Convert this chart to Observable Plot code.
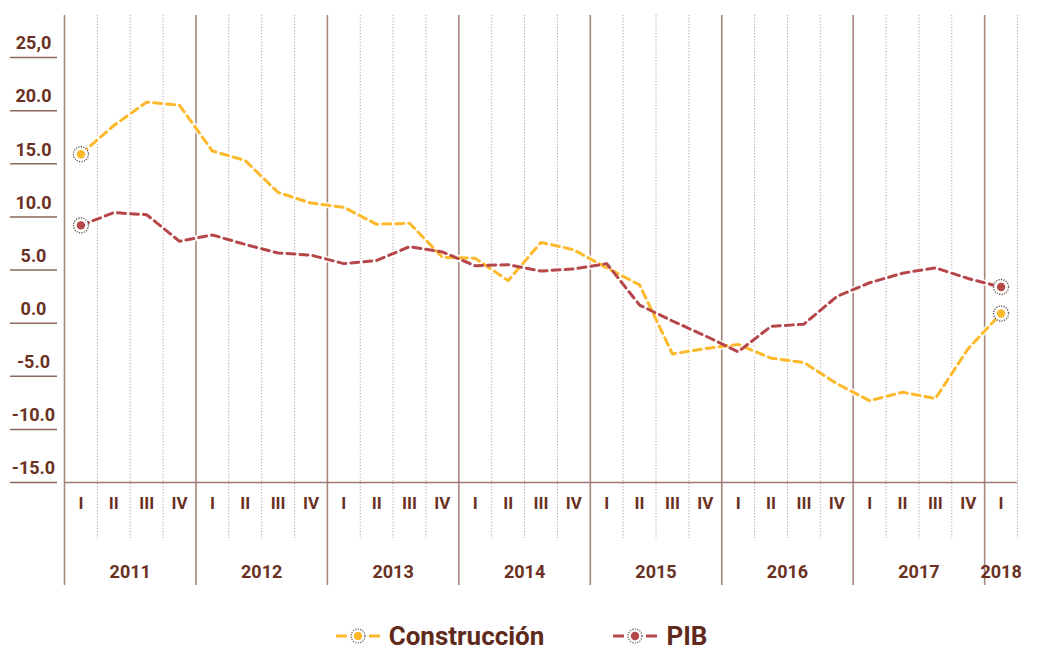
<!DOCTYPE html>
<html>
<head>
<meta charset="utf-8">
<script src="https://cdn.jsdelivr.net/npm/d3@7"></script>
<script src="https://cdn.jsdelivr.net/npm/@observablehq/plot@0.6"></script>
<style>
  html, body { margin: 0; padding: 0; background: #fff; }
  body { width: 1038px; height: 650px; overflow: hidden; font-family: Roboto, "Noto Sans", sans-serif; }
  #legend { display: flex; justify-content: center; align-items: center; gap: 68px; margin-top: 23px; height: 26px; padding-left: 4px; }
  .item { display: flex; align-items: center; gap: 8px; font-weight: 700; font-size: 26px; line-height: 26px; height: 26px; color: #5f2a1c; }
  .item svg { display: block; }
</style>
</head>
<body>
<div id="chart"></div>
<div id="legend"></div>
<script>
// ---- data ----
const years = [2011, 2012, 2013, 2014, 2015, 2016, 2017, 2018];
const quarterNames = ["I", "II", "III", "IV"];
const quarterCount = 29; // 2011-I ... 2018-I
const construccion = [15.9, 18.6, 20.8, 20.5, 16.2, 15.3, 12.3, 11.3, 10.9, 9.3, 9.4, 6.2, 6.1, 4.0, 7.6, 6.9, 5.2, 3.6, -2.9, -2.4, -2.0, -3.3, -3.7, -5.7, -7.3, -6.5, -7.1, -2.4, 0.9];
const pib = [9.2, 10.4, 10.2, 7.7, 8.3, 7.4, 6.6, 6.4, 5.6, 5.9, 7.2, 6.7, 5.4, 5.5, 4.9, 5.1, 5.6, 1.7, 0.2, -1.2, -2.7, -0.3, -0.1, 2.5, 3.8, 4.7, 5.2, 4.2, 3.4];
const yTicks = [-15, -10, -5, 0, 5, 10, 15, 20, 25];
const yTickLabels = ["-15.0", "-10.0", "-5.0", "0.0", "5.0", "10.0", "15.0", "20.0", "25,0"];
const seriesNames = ["Construcción", "PIB"];
const seriesColors = ["#fdb92b", "#b5474a"];

// ---- derived tables ----
const quarters = d3.range(quarterCount).map(i => {
  const year = years[0] + Math.floor(i / 4);
  const q = i % 4;
  return {i, year, q, label: quarterNames[q], t: year + q / 4 + 0.125, end: year + (q + 1) / 4};
});
const rows = [];
quarters.forEach(d => {
  rows.push({...d, serie: seriesNames[0], v: construccion[d.i]});
  rows.push({...d, serie: seriesNames[1], v: pib[d.i]});
});
const endpoints = rows.filter(d => d.i === 0 || d.i === quarterCount - 1);
const yearLabels = years.map(y => {
  const qs = quarters.filter(d => d.year === y);
  return {year: y, t: d3.mean(qs, d => d.t)};
});
const dottedLines = quarters.filter(d => !Number.isInteger(d.end)).map(d => d.end);
const solidLines = years;
const labelMap = new Map(yTicks.map((t, i) => [t, yTickLabels[i]]));
const colorMap = new Map(seriesNames.map((s, i) => [s, seriesColors[i]]));

const textColor = "#6a3122";
const curve = "linear";

const chart = Plot.plot({
  width: 1038,
  height: 600,
  marginLeft: 64,
  marginRight: 21,
  marginTop: 57,
  marginBottom: 118,
  style: {fontFamily: "Roboto, 'Noto Sans', sans-serif", background: "#fff"},
  x: {domain: [years[0], years[years.length - 1] + 0.25], axis: null},
  y: {domain: [-15, 25], axis: null},
  color: {domain: seriesNames, range: seriesColors},
  marks: [
    Plot.ruleX(dottedLines, {x: d => d, stroke: "#bba6a0", strokeWidth: 1, strokeDasharray: "1.3,1.7", insetTop: -42, insetBottom: -56}),
    Plot.ruleX(solidLines, {x: d => d, stroke: "#a8857d", strokeWidth: 1.6, insetTop: -42, insetBottom: -103}),
    Plot.ruleY([-15], {stroke: "#a07a70", strokeWidth: 1.5}),
    Plot.axisY({ticks: yTicks, label: null, tickSize: 47, dx: -7, tickFormat: () => "", stroke: "#8d675e", strokeWidth: 1.5}),
    Plot.axisY({ticks: yTicks, label: null, tickSize: 0, tickPadding: 31, textAnchor: "middle", dy: -14, tickFormat: d => labelMap.get(d), fontSize: 18, fontWeight: "bold", fill: textColor}),
    // halos
    Plot.line(rows, {x: "t", y: "v", z: "serie", stroke: "white", strokeWidth: 6, strokeDasharray: "10,3", strokeDashoffset: 1, curve, strokeLinejoin: "round", strokeOpacity: 0.9}),
    Plot.line(rows, {x: "t", y: "v", z: "serie", stroke: "serie", curve, strokeLinejoin: "round", strokeDasharray: "8,5", strokeWidth: 3}),
    Plot.dot(endpoints, {x: "t", y: "v", r: 7.5, fill: "white", stroke: "#5e4a45", strokeWidth: 1.3, strokeDasharray: "1.2,1.3"}),
    Plot.dot(endpoints, {x: "t", y: "v", r: 4.2, fill: "serie", stroke: null}),
    Plot.text(quarters, {x: "t", text: "label", frameAnchor: "bottom", lineAnchor: "middle", dy: 21, fontSize: 17, fontWeight: "bold", fill: textColor}),
    Plot.text(yearLabels, {x: "t", text: d => String(d.year), frameAnchor: "bottom", lineAnchor: "middle", dy: 90, fontSize: 18, fontWeight: "bold", fill: textColor})
  ]
});
document.getElementById("chart").appendChild(chart);

// ---- legend ----
const legend = d3.select("#legend");
seriesNames.forEach(name => {
  const c = colorMap.get(name);
  const item = legend.append("div").attr("class", "item");
  const svg = item.append("svg").attr("width", 46).attr("height", 20);
  svg.append("line").attr("x1", 1).attr("x2", 12).attr("y1", 10).attr("y2", 10).attr("stroke", c).attr("stroke-width", 3);
  svg.append("line").attr("x1", 34).attr("x2", 45).attr("y1", 10).attr("y2", 10).attr("stroke", c).attr("stroke-width", 3);
  svg.append("circle").attr("cx", 23).attr("cy", 10).attr("r", 7).attr("fill", "white").attr("stroke", "#5e4a45").attr("stroke-width", 1.2).attr("stroke-dasharray", "1.2,1.3");
  svg.append("circle").attr("cx", 23).attr("cy", 10).attr("r", 4.2).attr("fill", c);
  item.append("span").text(name);
});
</script>
</body>
</html>
